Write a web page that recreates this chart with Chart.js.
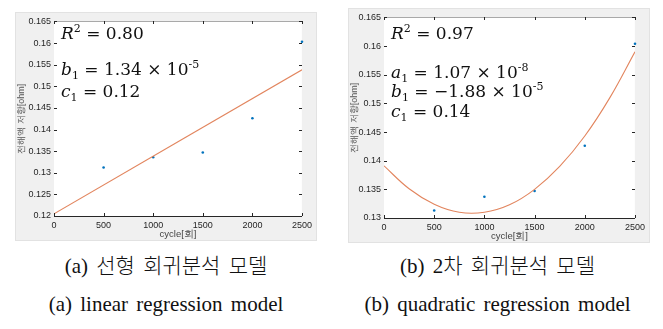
<!DOCTYPE html>
<html>
<head>
<meta charset="utf-8">
<script src="https://cdn.jsdelivr.net/npm/chart.js@4.4.1/dist/chart.umd.min.js"></script>
<style>
  html, body { margin: 0; padding: 0; background: #fff; }
  body { width: 663px; height: 329px; position: relative; overflow: hidden; }
  .panel { position: absolute; background: #f0f0f0; border: 1px solid #e2e2e2; box-sizing: border-box; }
  .panel canvas { position: absolute; left: 0; top: 0; }
  .eq { position: absolute; font-family: "DejaVu Serif", serif; font-size: 17px; color: #111; white-space: nowrap; line-height: 20px; pointer-events: none; }
  .eq i { font-style: italic; }
  .eq sub { font-size: 11px; vertical-align: -4px; line-height: 0; }
  .eq sup { font-size: 11px; vertical-align: 7px; line-height: 0; }
  .cap { position: absolute; font-family: "Liberation Serif", "Noto Sans CJK KR", serif; font-size: 21px; color: #111; white-space: nowrap; text-align: center; word-spacing: 3px; }
  .cap.ko { font-weight: 300; }
</style>
</head>
<body>
<div class="panel" id="pa" style="left:15px;top:12px;width:302px;height:229px;"><canvas id="chartA" width="300" height="227"></canvas></div>
<div class="panel" id="pb" style="left:348px;top:8px;width:302px;height:235px;"><canvas id="chartB" width="300" height="233"></canvas></div>

<div class="eq" style="left:61px;top:23px;"><i>R</i><sup>2</sup> = 0.80</div>
<div class="eq" style="left:61px;top:59px;"><i>b</i><sub>1</sub> = 1.34 × 10<sup>-5</sup></div>
<div class="eq" style="left:61px;top:81px;"><i>c</i><sub>1</sub> = 0.12</div>

<div class="eq" style="left:391px;top:23px;"><i>R</i><sup>2</sup> = 0.97</div>
<div class="eq" style="left:391px;top:62px;"><i>a</i><sub>1</sub> = 1.07 × 10<sup>-8</sup></div>
<div class="eq" style="left:391px;top:81px;"><i>b</i><sub>1</sub> = −1.88 × 10<sup>-5</sup></div>
<div class="eq" style="left:391px;top:101px;"><i>c</i><sub>1</sub> = 0.14</div>

<div class="cap ko" style="left:0px;width:332px;top:249px;">(a) 선형 회귀분석 모델</div>
<div class="cap" style="left:0px;width:332px;top:292px;">(a) linear regression model</div>
<div class="cap ko" style="left:332px;width:331px;top:249px;">(b) 2차 회귀분석 모델</div>
<div class="cap" style="left:332px;width:331px;top:292px;">(b) quadratic regression model</div>

<script>
(function() {
    'use strict';

    // measured points (cycle, resistance)
    const cycles = [500, 1000, 1500, 2000, 2500];
    const resistA = [0.1312, 0.1336, 0.1347, 0.1426, 0.1603];
    const resistB = [0.1313, 0.1337, 0.1347, 0.1426, 0.1604];

    // fitted lines
    const linFitX = [0, 2500];
    const linFitY = [0.1205, 0.1538];
    const quadFitX = [0, 250, 500, 750, 1000, 1250, 1500, 1750, 2000, 2250, 2500];
    const quadFitY = [0.1391, 0.1351, 0.1324, 0.1310, 0.1310, 0.1323, 0.1350, 0.1390, 0.1443, 0.1510, 0.1590];

    const xTicks = [0, 500, 1000, 1500, 2000, 2500];
    const yTicksA = ['0.12', '0.125', '0.13', '0.135', '0.14', '0.145', '0.15', '0.155', '0.16', '0.165'];
    const yTicksB = ['0.13', '0.135', '0.14', '0.145', '0.15', '0.155', '0.16', '0.165'];

    const xTitle = 'cycle[회]';
    const yTitle = '전해액 저항[ohm]';

    const AXIS = '#262626';
    const BLUE = '#0072BD';
    const ORANGE = '#E2855E';
    const FONT = '"Liberation Sans", Arial, sans-serif';

    // white plot area and short inward tick marks like MATLAB
    function tickPlugin(name) {
        return {
            id: name,
            beforeDatasetsDraw: function(chart) {
                const a = chart.chartArea, c = chart.ctx;
                c.save();
                c.fillStyle = '#fff';
                c.fillRect(a.left, a.top, a.right - a.left, a.bottom - a.top);
                c.restore();
            },
            afterDatasetsDraw: function(chart) {
                try {
                    const a = chart.chartArea, c = chart.ctx;
                    const xs = chart.scales.x, ys = chart.scales.y;
                    const L = Math.round(a.left), Rt = Math.round(a.right);
                    const T = Math.round(a.top), B = Math.round(a.bottom);
                    const len = 3;
                    c.save();
                    c.fillStyle = AXIS;
                    xTicks.forEach(function(v) {
                        const px = Math.round(xs.getPixelForValue(v));
                        c.fillRect(px, B - len, 1, len);
                        c.fillRect(px, T, 1, len);
                    });
                    ys.ticks.forEach(function(t) {
                        const py = Math.round(ys.getPixelForValue(t.value));
                        c.fillRect(L, py, len, 1);
                        c.fillRect(Rt - len, py, len, 1);
                    });
                    c.restore();
                } catch (e) {
                    console.error(e);
                }
            }
        };
    }

    // empty axes on top and right, only to close the box
    function frameAxis(pos) {
        return {
            type: 'linear',
            position: pos,
            min: 0,
            max: 1,
            afterFit: function(s) {
                if (pos === 'top') s.height = 0; else s.width = 0;
            },
            grid: { display: false, drawTicks: false },
            border: { display: true, color: AXIS, width: 1 },
            ticks: { display: false }
        };
    }

    function makeChart(id, pts, fitX, fitY, yLabels, pad, yWidth) {
        const yVals = yLabels.map(Number);
        return new Chart(document.getElementById(id), {
            type: 'scatter',
            data: {
                datasets: [
                    {
                        data: fitX.map(function(x, i) { return { x: x, y: fitY[i] }; }),
                        borderColor: ORANGE,
                        borderWidth: 1.1,
                        pointRadius: 0,
                        showLine: true,
                        tension: 0.4
                    },
                    {
                        data: cycles.map(function(x, i) { return { x: x, y: pts[i] }; }),
                        backgroundColor: BLUE,
                        pointRadius: 1.3,
                        pointBorderWidth: 0,
                        clip: false
                    }
                ]
            },
            options: {
                responsive: false,
                animation: false,
                devicePixelRatio: 1,
                layout: { padding: pad },
                plugins: { legend: { display: false }, tooltip: { enabled: false } },
                scales: {
                    x: {
                        type: 'linear',
                        position: 'bottom',
                        min: xTicks[0],
                        max: xTicks[xTicks.length - 1],
                        afterBuildTicks: function(s) { s.ticks = xTicks.map(function(v) { return { value: v }; }); },
                        afterFit: function(s) { s.height = 24; },
                        grid: { display: false, drawTicks: false },
                        border: { display: true, color: AXIS, width: 1 },
                        ticks: {
                            color: AXIS,
                            padding: 4,
                            maxRotation: 0,
                            autoSkip: false,
                            font: { family: FONT, size: 9 },
                            callback: function(v) { return String(v); }
                        },
                        title: {
                            display: true,
                            text: xTitle,
                            color: '#444',
                            padding: { top: 0, bottom: 0 },
                            font: { family: FONT, size: 9.5 }
                        }
                    },
                    y: {
                        type: 'linear',
                        position: 'left',
                        min: yVals[0],
                        max: yVals[yVals.length - 1],
                        afterBuildTicks: function(s) { s.ticks = yVals.map(function(v) { return { value: v }; }); },
                        afterFit: function(s) { s.width = yWidth; },
                        grid: { display: false, drawTicks: false },
                        border: { display: true, color: AXIS, width: 1 },
                        ticks: {
                            color: AXIS,
                            padding: 3,
                            autoSkip: false,
                            font: { family: FONT, size: 9 },
                            callback: function(v) {
                                const i = yVals.indexOf(v);
                                return i >= 0 ? yLabels[i] : '';
                            }
                        },
                        title: {
                            display: true,
                            text: yTitle,
                            color: '#555',
                            padding: { top: 0, bottom: 0 },
                            font: { family: FONT, size: 9 }
                        }
                    },
                    xTop: frameAxis('top'),
                    yRight: frameAxis('right')
                }
            },
            plugins: [tickPlugin('ticks' + id)]
        });
    }

    makeChart('chartA', resistA, linFitX, linFitY, yTicksA, { left: 0, right: 8, top: 0, bottom: 0 }, 38);
    makeChart('chartB', resistB, quadFitX, quadFitY, yTicksB, { left: 0, right: 6, top: 4, bottom: 0 }, 35);
})();
</script>
</body>
</html>
